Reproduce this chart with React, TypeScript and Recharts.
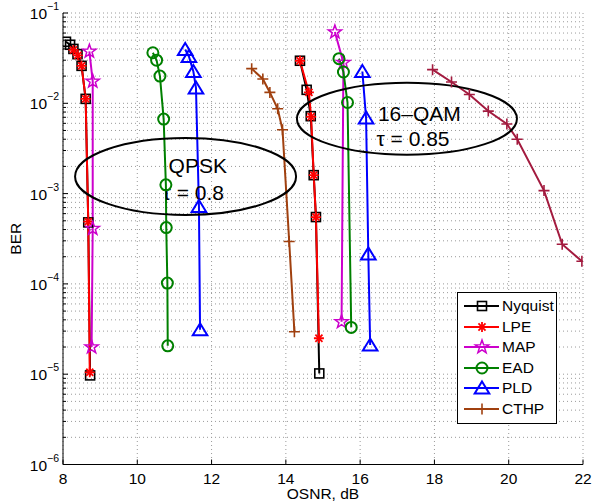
import React from 'react';
import { LineChart, Line, XAxis, YAxis, CartesianGrid, ReferenceDot, Legend } from 'recharts';

const FONT = '"Liberation Sans", Arial, Helvetica, sans-serif';

// axes
const osnrTicks = [8, 10, 12, 14, 16, 18, 20, 22];
const berDecades = [1e-6, 1e-5, 1e-4, 1e-3, 1e-2, 1e-1];
const berMinor = berDecades.slice(0, -1).flatMap((d) => [2, 3, 4, 5, 6, 7, 8, 9].map((m) => m * d));
const berTicks = [...berDecades, ...berMinor].sort((a, b) => a - b);

// QPSK, tau = 0.8
const nyquistQpskOsnr = [8.08, 8.19, 8.28, 8.39, 8.5, 8.61, 8.68, 8.73];
const nyquistQpskBer = [0.048, 0.0445, 0.04, 0.035, 0.026, 0.0112, 4.8e-4, 9.7e-6];
const lpeQpskOsnr = [8.28, 8.4, 8.5, 8.61, 8.68, 8.72];
const lpeQpskBer = [0.039, 0.034, 0.026, 0.0112, 4.9e-4, 1.05e-5];
const mapQpskOsnr = [8.71, 8.8, 8.8, 8.77];
const mapQpskBer = [0.0376, 0.0175, 4.1e-4, 2.0e-5];
const eadQpskOsnr = [10.42, 10.52, 10.61, 10.71, 10.77, 10.78, 10.81, 10.82];
const eadQpskBer = [0.0363, 0.03, 0.02, 0.00668, 0.00125, 4.2e-4, 1.02e-4, 2.06e-5];
const pldQpskOsnr = [11.29, 11.39, 11.51, 11.58, 11.66, 11.69];
const pldQpskBer = [0.0395, 0.033, 0.0225, 0.0148, 7.2e-4, 3.1e-5];

// 16-QAM, tau = 0.85
const nyquistQamOsnr = [14.38, 14.56, 14.67, 14.75, 14.81, 14.9];
const nyquistQamBer = [0.0296, 0.0141, 0.0072, 0.0016, 5.5e-4, 1.02e-5];
const lpeQamOsnr = [14.38, 14.62, 14.68, 14.75, 14.81, 14.89];
const lpeQamBer = [0.0296, 0.0132, 0.0071, 0.0016, 5.5e-4, 2.5e-5];
const mapQamOsnr = [15.32, 15.55, 15.5];
const mapQamBer = [0.0616, 0.0282, 3.8e-5];
const eadQamOsnr = [15.43, 15.55, 15.66, 15.76];
const eadQamBer = [0.0312, 0.0222, 0.0102, 3.3e-5];
const pldQamOsnr = [16.06, 16.16, 16.22, 16.27];
const pldQamBer = [0.0225, 0.00686, 2.15e-4, 2.1e-5];
const cthpQamOsnr = [13.08, 13.38, 13.57, 13.78, 13.91, 14.09, 14.23];
const cthpQamBer = [0.0242, 0.0186, 0.0132, 0.0087, 0.0051, 2.95e-4, 2.95e-5];
const cthpHighOsnr = [17.95, 18.46, 18.94, 19.45, 19.95, 20.23, 20.95, 21.44, 21.97];
const cthpHighBer = [0.0236, 0.0172, 0.0125, 0.0082, 0.0059, 0.004, 0.00108, 2.75e-4, 1.78e-4];

// annotation ellipse centres (data coords)
const qpskNote = { osnr: 11.3, ber: 1.55e-3, lines: ['QPSK', 'τ = 0.8'] };
const qamNote = { osnr: 17.26, ber: 6.75e-3, lines: ['16–QAM', 'τ = 0.85'] };

type Pt = { osnr: number; ber: number };
const zip = (xs: number[], ys: number[]): Pt[] => xs.map((x, i) => ({ osnr: x, ber: ys[i] }));

type Kind = 'square' | 'asterisk' | 'pentagram' | 'circle' | 'triangle' | 'plus';

const STYLES: Record<string, { color: string; marker: Kind }> = {
  Nyquist: { color: '#000000', marker: 'square' },
  LPE: { color: '#ff0000', marker: 'asterisk' },
  MAP: { color: '#cc00cc', marker: 'pentagram' },
  EAD: { color: '#008000', marker: 'circle' },
  PLD: { color: '#0000ff', marker: 'triangle' },
  CTHP: { color: '#a0400f', marker: 'plus' },
  CTHP2: { color: '#a31b3f', marker: 'plus' },
};
const legendNames = ['Nyquist', 'LPE', 'MAP', 'EAD', 'PLD', 'CTHP'];

const LINES = [
  { id: 'nyq-qpsk', style: 'Nyquist', data: zip(nyquistQpskOsnr, nyquistQpskBer) },
  { id: 'nyq-qam', style: 'Nyquist', data: zip(nyquistQamOsnr, nyquistQamBer) },
  { id: 'lpe-qpsk', style: 'LPE', data: zip(lpeQpskOsnr, lpeQpskBer) },
  { id: 'lpe-qam', style: 'LPE', data: zip(lpeQamOsnr, lpeQamBer) },
  { id: 'map-qpsk', style: 'MAP', data: zip(mapQpskOsnr, mapQpskBer) },
  { id: 'map-qam', style: 'MAP', data: zip(mapQamOsnr, mapQamBer) },
  { id: 'ead-qpsk', style: 'EAD', data: zip(eadQpskOsnr, eadQpskBer) },
  { id: 'ead-qam', style: 'EAD', data: zip(eadQamOsnr, eadQamBer) },
  { id: 'pld-qpsk', style: 'PLD', data: zip(pldQpskOsnr, pldQpskBer) },
  { id: 'pld-qam', style: 'PLD', data: zip(pldQamOsnr, pldQamBer) },
  { id: 'cthp-qam', style: 'CTHP', data: zip(cthpQamOsnr, cthpQamBer) },
  { id: 'cthp-high', style: 'CTHP2', data: zip(cthpHighOsnr, cthpHighBer) },
];

function Marker({ kind, cx, cy, color }: { kind: Kind; cx: number; cy: number; color: string }) {
  const s = { fill: 'none', stroke: color, strokeWidth: 1.6 };
  switch (kind) {
    case 'square':
      return <rect x={cx - 4.5} y={cy - 4.5} width={9} height={9} {...s} />;
    case 'circle':
      return <circle cx={cx} cy={cy} r={5.5} {...s} strokeWidth={2} />;
    case 'triangle':
      return <polygon points={`${cx},${cy - 6.5} ${cx + 7.3},${cy + 5.5} ${cx - 7.3},${cy + 5.5}`} {...s} strokeWidth={2} />;
    case 'plus':
      return (
        <g {...s}>
          <line x1={cx - 5.5} y1={cy} x2={cx + 5.5} y2={cy} />
          <line x1={cx} y1={cy - 5.5} x2={cx} y2={cy + 5.5} />
        </g>
      );
    case 'asterisk': {
      const r = 5;
      const d = r * 0.707;
      return (
        <g {...s} strokeWidth={1.8}>
          <line x1={cx - r} y1={cy} x2={cx + r} y2={cy} />
          <line x1={cx} y1={cy - r} x2={cx} y2={cy + r} />
          <line x1={cx - d} y1={cy - d} x2={cx + d} y2={cy + d} />
          <line x1={cx - d} y1={cy + d} x2={cx + d} y2={cy - d} />
        </g>
      );
    }
    case 'pentagram': {
      const pts: string[] = [];
      for (let i = 0; i < 10; i++) {
        const rad = i % 2 === 0 ? 7 : 2.8;
        const a = -Math.PI / 2 + (i * Math.PI) / 5;
        pts.push(`${cx + rad * Math.cos(a)},${cy + rad * Math.sin(a)}`);
      }
      return <polygon points={pts.join(' ')} {...s} strokeWidth={1.5} />;
    }
  }
  return null;
}

const isDecade = (v: number) => berDecades.includes(v);

function LeftTick({ x, y, payload }: any) {
  const v = payload.value;
  const major = isDecade(v);
  const len = major ? 5 : 3;
  return (
    <g>
      <line x1={x} y1={y} x2={x + len} y2={y} stroke="#000" strokeWidth={1} />
      {major && (
        <text x={x - 4} y={y + 6} textAnchor="end" fontFamily={FONT} fontSize={15.5} fill="#000">
          10
          <tspan dy={-9} fontSize={10.5}>{'\u2212' + Math.abs(Math.round(Math.log10(v)))}</tspan>
        </text>
      )}
    </g>
  );
}

function RightTick({ x, y, payload }: any) {
  const len = isDecade(payload.value) ? 5 : 3;
  return <line x1={x} y1={y} x2={x - len} y2={y} stroke="#000" strokeWidth={1} />;
}

function BottomTick({ x, y, payload }: any) {
  return (
    <g>
      <line x1={x} y1={y} x2={x} y2={y - 5} stroke="#000" strokeWidth={1} />
      <text x={x} y={y + 19} textAnchor="middle" fontFamily={FONT} fontSize={15.5} fill="#000">
        {payload.value}
      </text>
    </g>
  );
}

function TopTick({ x, y }: any) {
  return <line x1={x} y1={y} x2={x} y2={y + 5} stroke="#000" strokeWidth={1} />;
}

function makeNote(lines: string[], rx: number, ry: number, offs: [number, number][]) {
  return (props: any) => {
    const { cx, cy } = props;
    return (
      <g>
        <ellipse cx={cx} cy={cy} rx={rx} ry={ry} fill="none" stroke="#000" strokeWidth={2} />
        {lines.map((t, i) => (
          <text key={t} x={cx + offs[i][0]} y={cy + offs[i][1]} fontFamily={FONT} fontSize={21} fill="#000">
            {t}
          </text>
        ))}
      </g>
    );
  };
}

function LegendBox() {
  return (
    <div
      style={{
        border: '1px solid #000',
        background: '#fff',
        width: 98,
        padding: '3px 0 4px 0',
        fontFamily: FONT,
        fontSize: 15.5,
        boxSizing: 'content-box',
      }}
    >
      {legendNames.map((name) => {
        const st = STYLES[name];
        return (
          <div key={name} style={{ display: 'flex', alignItems: 'center', height: 20.5 }}>
            <svg width={44} height={20} style={{ display: 'block' }}>
              <line x1={6} y1={10} x2={41} y2={10} stroke={st.color} strokeWidth={2} />
              <Marker kind={st.marker} cx={24} cy={10} color={st.color} />
            </svg>
            <span style={{ lineHeight: '20px' }}>{name}</span>
          </div>
        );
      })}
    </div>
  );
}

export default function App() {
  return (
    <div style={{ position: 'absolute', left: 0, top: 0, fontFamily: FONT }}>
      <LineChart width={592} height={503} margin={{ top: 13, right: 9, bottom: 0, left: 8 }}>
        <CartesianGrid
          horizontalValues={berTicks}
          verticalValues={osnrTicks}
          stroke="#9a9a9a"
          strokeDasharray="1 3"
        />
        <XAxis
          dataKey="osnr"
          type="number"
          domain={[8, 22]}
          ticks={osnrTicks}
          interval={0}
          allowDataOverflow
          height={38.5}
          stroke="#000"
          tickSize={0}
          tickMargin={0}
          tickLine={false}
          tick={<BottomTick />}
          label={({ viewBox }: any) => (
            <text x={viewBox.x + viewBox.width / 2} y={viewBox.y + 34} textAnchor="middle" fontFamily={FONT} fontSize={15.5}>
              OSNR, dB
            </text>
          )}
        />
        <XAxis
          xAxisId="top"
          orientation="top"
          type="number"
          domain={[8, 22]}
          ticks={osnrTicks}
          interval={0}
          allowDataOverflow
          height={0}
          stroke="#000"
          tickSize={0}
          tickMargin={0}
          tickLine={false}
          tick={<TopTick />}
        />
        <YAxis
          scale="log"
          type="number"
          domain={[1e-6, 1e-1]}
          ticks={berTicks}
          interval={0}
          allowDataOverflow
          width={55}
          stroke="#000"
          tickSize={0}
          tickMargin={0}
          tickLine={false}
          tick={<LeftTick />}
          label={({ viewBox }: any) => (
            <text
              x={viewBox.x + 13}
              y={viewBox.y + viewBox.height / 2}
              textAnchor="middle"
              fontFamily={FONT}
              fontSize={15.5}
              transform={`rotate(-90 ${viewBox.x + 13} ${viewBox.y + viewBox.height / 2})`}
            >
              BER
            </text>
          )}
        />
        <YAxis
          yAxisId="right"
          orientation="right"
          scale="log"
          type="number"
          domain={[1e-6, 1e-1]}
          ticks={berTicks}
          interval={0}
          allowDataOverflow
          width={0}
          stroke="#000"
          tickSize={0}
          tickMargin={0}
          tickLine={false}
          tick={<RightTick />}
        />
        {LINES.map((l) => {
          const st = STYLES[l.style];
          return (
            <Line
              key={l.id}
              data={l.data}
              dataKey="ber"
              type="linear"
              stroke={st.color}
              strokeWidth={2}
              isAnimationActive={false}
              activeDot={false}
              legendType="none"
              dot={(p: any) => <Marker key={`${l.id}-${p.index}`} kind={st.marker} cx={p.cx} cy={p.cy} color={st.color} />}
            />
          );
        })}
        <ReferenceDot
          x={qpskNote.osnr}
          y={qpskNote.ber}
          r={0}
          shape={makeNote(qpskNote.lines, 110.5, 38.5, [[-17, -3], [-23, 23.5]])}
        />
        <ReferenceDot
          x={qamNote.osnr}
          y={qamNote.ber}
          r={0}
          shape={makeNote(qamNote.lines, 110, 36, [[-29, 2.7], [-30.5, 27.7]])}
        />
        <Legend
          layout="vertical"
          align="center"
          verticalAlign="middle"
          content={() => <LegendBox />}
          wrapperStyle={{ left: 457, top: 292, width: 'auto', height: 'auto' }}
        />
      </LineChart>
    </div>
  );
}
